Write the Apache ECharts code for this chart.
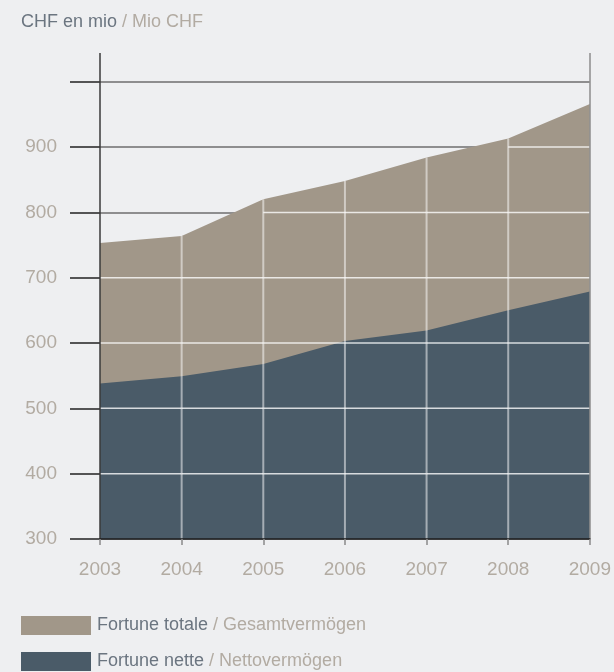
<!DOCTYPE html>
<html>
<head>
<meta charset="utf-8">
<script src="https://cdn.jsdelivr.net/npm/echarts@6/dist/echarts.min.js"></script>
<style>
html,body{margin:0;padding:0;background:#eeeff1;}
#chart{width:614px;height:672px;}
</style>
</head>
<body>
<div id="chart"></div>
<script>
// ---- data ----
const years = ['2003', '2004', '2005', '2006', '2007', '2008', '2009'];
const totalValues = [753, 764, 820, 848, 884, 913, 966];
const netValues = [538, 549, 568, 603, 619, 650, 679];
const yTickValues = [300, 400, 500, 600, 700, 800, 900, 1000];
const yLabelValues = [300, 400, 500, 600, 700, 800, 900];
const gridLevels = [400, 500, 600, 700, 800, 900, 1000];
const seriesNamesFr = ['Fortune totale', 'Fortune nette'];
const seriesNamesDe = ['Gesamtvermögen', 'Nettovermögen'];
const titleFr = 'CHF en mio';
const titleDe = 'Mio CHF';

// ---- styles ----
const FONT = 'Liberation Sans';
const C_TAN = '#a19789';
const C_BLUE = '#4a5b68';
const C_DARKTXT = '#6b7580';
const C_LIGHTTXT = '#b2aba2';

const chart = echarts.init(document.getElementById('chart'), null, {renderer: 'canvas'});

function hRender(params, api) {
  const v = api.value(0);
  const children = [];
  for (let i = 0; i < totalValues.length - 1; i++) {
    const a = totalValues[i], b = totalValues[i + 1];
    let t0, t1;
    if (a >= v && b >= v) { t0 = 0; t1 = 1; }
    else if (a < v && b < v) { continue; }
    else if (a < v) { t0 = (v - a) / (b - a); t1 = 1; }
    else { t0 = 0; t1 = (a - v) / (a - b); }
    const p0 = api.coord([i + t0, v]);
    const p1 = api.coord([i + t1, v]);
    children.push({
      type: 'line',
      shape: {x1: p0[0], y1: p0[1], x2: p1[0], y2: p1[1]},
      style: {stroke: 'rgba(255,255,255,0.78)', lineWidth: 1.5}
    });
  }
  return {type: 'group', children: children};
}

function vRender(params, api) {
  const idx = api.value(0);
  const top = api.value(1);
  const p0 = api.coord([idx, yTickValues[0]]);
  const p1 = api.coord([idx, top]);
  return {
    type: 'line',
    shape: {x1: p0[0], y1: p0[1], x2: p1[0], y2: p1[1]},
    style: {stroke: 'rgba(255,255,255,0.5)', lineWidth: 2}
  };
}

const vData = [];
for (let i = 1; i < years.length - 1; i++) vData.push([i, totalValues[i]]);

const option = {
  backgroundColor: '#eeeff1',
  animation: false,
  textStyle: {fontFamily: FONT},
  title: {
    text: '{a|' + titleFr + '}{b| / ' + titleDe + '}',
    left: 21,
    top: 13,
    padding: 0,
    textStyle: {
      fontWeight: 'normal',
      rich: {
        a: {fontFamily: FONT, fontSize: 18, fontWeight: 'normal', color: C_DARKTXT},
        b: {fontFamily: FONT, fontSize: 18, fontWeight: 'normal', color: C_LIGHTTXT}
      }
    }
  },
  legend: {
    orient: 'vertical',
    left: 21,
    top: 616,
    padding: 0,
    itemWidth: 70,
    itemHeight: 19,
    itemGap: 17,
    selectedMode: false,
    data: [
      {name: seriesNamesFr[0], icon: 'rect', itemStyle: {color: C_TAN, borderWidth: 0}},
      {name: seriesNamesFr[1], icon: 'rect', itemStyle: {color: C_BLUE, borderWidth: 0}}
    ],
    formatter: function (name) {
      const i = seriesNamesFr.indexOf(name);
      return '{a|' + name + '}{b| / ' + seriesNamesDe[i] + '}';
    },
    textStyle: {
      padding: [0, 0, 0, 1],
      rich: {
        a: {fontFamily: FONT, fontSize: 18, color: C_DARKTXT},
        b: {fontFamily: FONT, fontSize: 18, color: C_LIGHTTXT}
      }
    }
  },
  grid: {left: 100, right: 24, top: 53, bottom: 133, containLabel: false},
  xAxis: {
    type: 'category',
    data: years,
    boundaryGap: false,
    z: 5,
    axisLine: {show: true, lineStyle: {color: '#1e1e1e', width: 1.5}},
    axisTick: {show: true, length: 6, lineStyle: {color: '#8a8a8a', width: 1.5}},
    axisLabel: {margin: 21, fontSize: 19, color: C_LIGHTTXT, fontFamily: FONT},
    splitLine: {
      show: true,
      interval: function (index) { return index === 0 || index === years.length - 1; },
      lineStyle: {color: ['#3a3a3a', '#8c8c8c'], width: 1.5}
    }
  },
  yAxis: {
    type: 'value',
    min: 300,
    max: 1044,
    interval: 100,
    axisLine: {show: false},
    axisTick: {show: true, length: 30, customValues: yTickValues, lineStyle: {color: '#222', width: 1.5}},
    axisLabel: {margin: 43, fontSize: 19, color: C_LIGHTTXT, fontFamily: FONT, customValues: yLabelValues},
    splitLine: {show: true, lineStyle: {color: '#6e6e6e', width: 1.5}}
  },
  series: [
    {
      name: seriesNamesFr[0],
      type: 'line',
      data: totalValues,
      showSymbol: false,
      symbol: 'none',
      itemStyle: {color: C_TAN},
      lineStyle: {width: 0, color: C_TAN},
      areaStyle: {color: C_TAN, opacity: 1},
      z: 2
    },
    {
      name: seriesNamesFr[1],
      type: 'line',
      data: netValues,
      showSymbol: false,
      symbol: 'none',
      itemStyle: {color: C_BLUE},
      lineStyle: {width: 0, color: C_BLUE},
      areaStyle: {color: C_BLUE, opacity: 1},
      z: 2
    },
    {
      name: 'hgrid',
      type: 'custom',
      data: gridLevels.map(v => [v]),
      encode: {y: 0},
      renderItem: hRender,
      silent: true,
      z: 3
    },
    {
      name: 'vgrid',
      type: 'custom',
      data: vData,
      encode: {x: 0, y: 1},
      renderItem: vRender,
      silent: true,
      z: 3
    }
  ]
};
chart.setOption(option);
</script>
</body>
</html>
